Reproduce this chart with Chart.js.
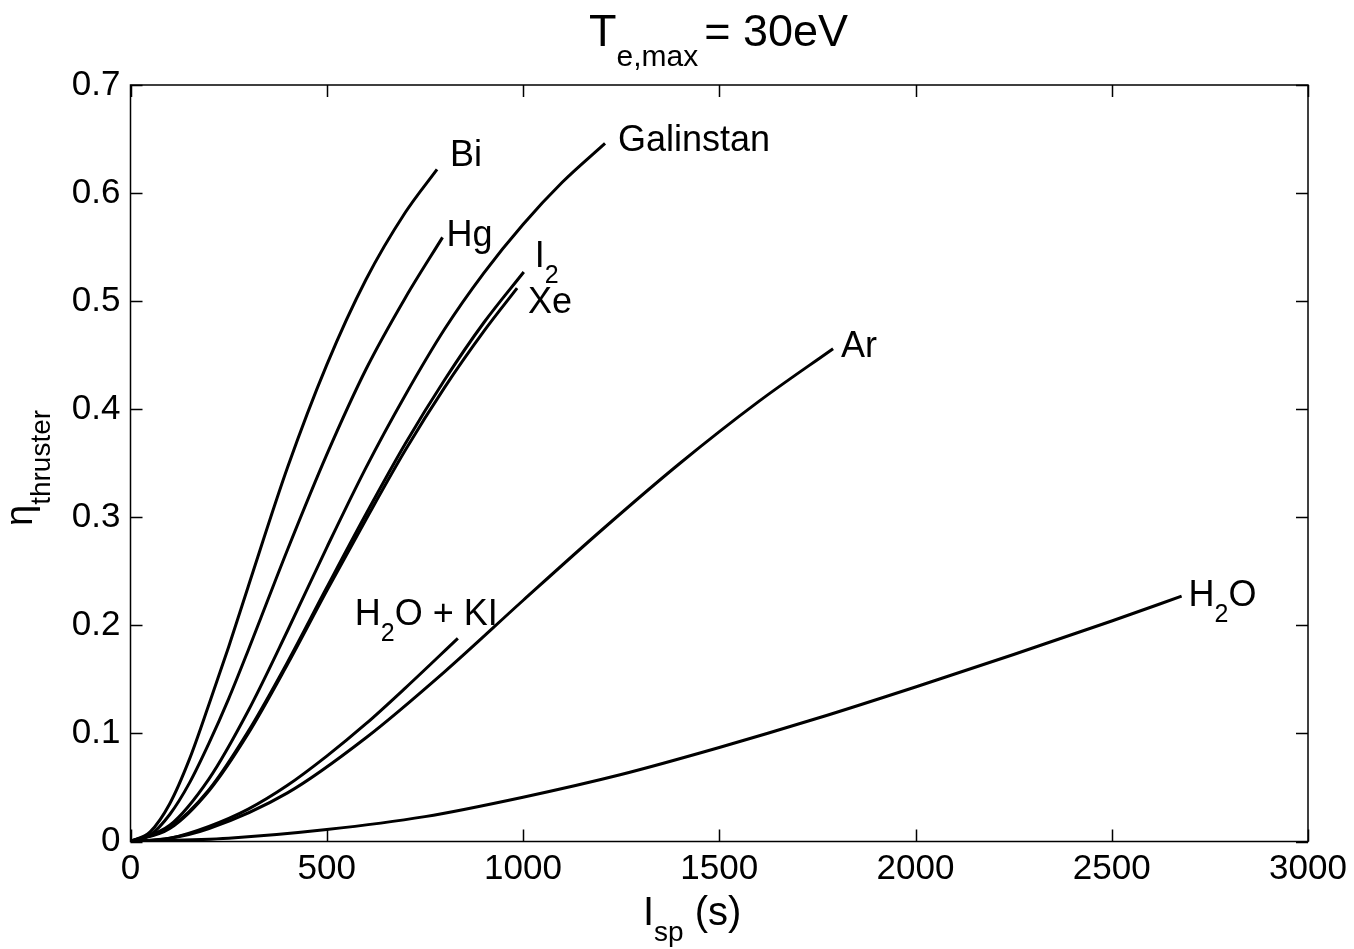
<!DOCTYPE html>
<html>
<head>
<meta charset="utf-8">
<script src="https://cdn.jsdelivr.net/npm/chart.js@4.4.0/dist/chart.umd.min.js"></script>
<style>
  html, body { margin: 0; padding: 0; background: #fff; }
  #wrap { width: 1354px; height: 949px; }
</style>
</head>
<body>
<div id="wrap"><canvas id="thrusterChart" width="1354" height="949"></canvas></div>
<script>
// Isp (s) vs thruster efficiency
const biX = [0, 50, 100, 150, 200, 250, 300, 400, 500, 600, 700, 781];
const biY = [0, 0.009, 0.035, 0.076, 0.127, 0.18, 0.236, 0.346, 0.441, 0.52, 0.582, 0.622];

const hgX = [0, 50, 100, 150, 200, 250, 300, 400, 500, 600, 700, 795];
const hgY = [0, 0.006, 0.025, 0.054, 0.091, 0.132, 0.177, 0.27, 0.358, 0.437, 0.503, 0.559];

const galX = [0, 100, 200, 300, 400, 500, 600, 700, 800, 900, 1000, 1100, 1209];
const galY = [0, 0.015, 0.058, 0.121, 0.195, 0.272, 0.346, 0.413, 0.474, 0.526, 0.571, 0.61, 0.646];

const i2X = [0, 100, 200, 300, 400, 500, 600, 700, 800, 900, 1002];
const i2Y = [0, 0.013, 0.048, 0.102, 0.166, 0.235, 0.303, 0.368, 0.427, 0.48, 0.527];

const xeX = [0, 100, 200, 300, 400, 500, 600, 700, 800, 900, 985];
const xeY = [0, 0.012, 0.047, 0.1, 0.164, 0.232, 0.298, 0.362, 0.42, 0.472, 0.512];

const kiX = [0, 100, 200, 300, 400, 500, 600, 700, 834];
const kiY = [0, 0.003, 0.014, 0.03, 0.052, 0.079, 0.109, 0.142, 0.188];

const arX = [0, 100, 200, 400, 600, 800, 1000, 1200, 1400, 1600, 1790];
const arY = [0, 0.003, 0.012, 0.045, 0.096, 0.157, 0.223, 0.288, 0.35, 0.407, 0.456];

const h2oX = [0, 250, 500, 750, 1000, 1250, 1500, 1750, 2000, 2250, 2500, 2678];
const h2oY = [0, 0.003, 0.011, 0.023, 0.041, 0.062, 0.087, 0.114, 0.143, 0.173, 0.204, 0.227];

const xTicks = [0, 500, 1000, 1500, 2000, 2500, 3000];
const yTicks = [0, 0.1, 0.2, 0.3, 0.4, 0.5, 0.6, 0.7];

const FONT = '"Liberation Sans", Arial, Helvetica, sans-serif';

const pts = (xs, ys) => xs.map((x, i) => ({ x: x, y: ys[i] }));

const curves = [
  { name: "Bi", data: pts(biX, biY), text: [["Bi", 0]], dx: 13, dy: -3 },
  { name: "Hg", data: pts(hgX, hgY), text: [["Hg", 0]], dx: 4, dy: 9 },
  { name: "Galinstan", data: pts(galX, galY), text: [["Galinstan", 0]], dx: 13, dy: 8 },
  { name: "I2", data: pts(i2X, i2Y), text: [["I", 0], ["2", 1]], dx: 11, dy: -5 },
  { name: "Xe", data: pts(xeX, xeY), text: [["Xe", 0]], dx: 11, dy: 25 },
  { name: "H2O + KI", data: pts(kiX, kiY), text: [["H", 0], ["2", 1], ["O + KI", 0]], dx: -103, dy: -13 },
  { name: "Ar", data: pts(arX, arY), text: [["Ar", 0]], dx: 8, dy: 8 },
  { name: "H2O", data: pts(h2oX, h2oY), text: [["H", 0], ["2", 1], ["O", 0]], dx: 7, dy: 10 },
];

// text with subscripts, left aligned on the baseline
function drawRich(ctx, parts, x, y, size, subSize, drop) {
  let cx = x;
  parts.forEach(([t, sub]) => {
    ctx.font = (sub ? subSize : size) + "px " + FONT;
    ctx.fillText(t, cx, sub ? y + drop : y);
    cx += ctx.measureText(t).width;
  });
  return cx;
}

const decorPlugin = {
  id: "decor",
  afterDatasetsDraw(chart) {
    const { ctx, chartArea: a, scales } = chart;
    ctx.save();
    // box with inward ticks on all sides
    ctx.strokeStyle = "#000";
    ctx.lineWidth = 1.5;
    ctx.strokeRect(a.left, a.top, a.right - a.left, a.bottom - a.top);
    ctx.beginPath();
    xTicks.forEach((v) => {
      const px = Math.round(scales.x.getPixelForValue(v)) + 0.5;
      ctx.moveTo(px, a.bottom); ctx.lineTo(px, a.bottom - 12);
      ctx.moveTo(px, a.top); ctx.lineTo(px, a.top + 12);
    });
    yTicks.forEach((v) => {
      const py = Math.round(scales.y.getPixelForValue(v)) + 0.5;
      ctx.moveTo(a.left, py); ctx.lineTo(a.left + 12, py);
      ctx.moveTo(a.right, py); ctx.lineTo(a.right - 12, py);
    });
    ctx.stroke();

    // curve labels next to the last point of each line
    ctx.fillStyle = "#000";
    ctx.textBaseline = "alphabetic";
    ctx.textAlign = "left";
    curves.forEach((c) => {
      const last = c.data[c.data.length - 1];
      const px = scales.x.getPixelForValue(last.x);
      const py = scales.y.getPixelForValue(last.y);
      drawRich(ctx, c.text, px + c.dx, py + c.dy, 36, 25, 16);
    });

    // title
    const tEnd = drawRich(ctx, [["T", 0], ["e,max", 1]], 589, 46, 45, 30, 20);
    drawRich(ctx, [["= 30eV", 0]], tEnd + 6, 46, 45, 30, 20);

    // x axis label
    drawRich(ctx, [["I", 0], ["sp", 1], [" (s)", 0]], 643, 925, 40, 28, 16);

    // y axis label, rotated
    ctx.translate(32, 526);
    ctx.rotate(-Math.PI / 2);
    drawRich(ctx, [["\u03b7", 0], ["thruster", 1]], 0, 0, 38, 28, 18);
    ctx.restore();
  },
};

new Chart(document.getElementById("thrusterChart"), {
  type: "line",
  data: {
    datasets: curves.map((c) => ({
      label: c.name,
      data: c.data,
      borderColor: "#000",
      borderWidth: 3,
      pointRadius: 0,
      fill: false,
      cubicInterpolationMode: "monotone",
    })),
  },
  options: {
    responsive: false,
    animation: false,
    devicePixelRatio: 1,
    layout: { padding: { left: 0, top: 85, right: 46, bottom: 0 } },
    plugins: { legend: { display: false }, tooltip: { enabled: false } },
    scales: {
      x: {
        type: "linear",
        min: 0,
        max: 3000,
        grid: { display: false, drawTicks: false },
        border: { display: false },
        afterFit: (s) => { s.height = 107.5; },
        ticks: {
          stepSize: 500,
          padding: 7,
          color: "#000",
          font: { family: FONT, size: 35 },
          callback: (v) => String(v),
        },
      },
      y: {
        min: 0,
        max: 0.7,
        grid: { display: false, drawTicks: false },
        border: { display: false },
        afterFit: (s) => { s.width = 130.5; },
        ticks: {
          stepSize: 0.1,
          padding: 10,
          color: "#000",
          font: { family: FONT, size: 35 },
          callback: (v) => String(Math.round(v * 10) / 10),
        },
      },
    },
  },
  plugins: [decorPlugin],
});
</script>
</body>
</html>
